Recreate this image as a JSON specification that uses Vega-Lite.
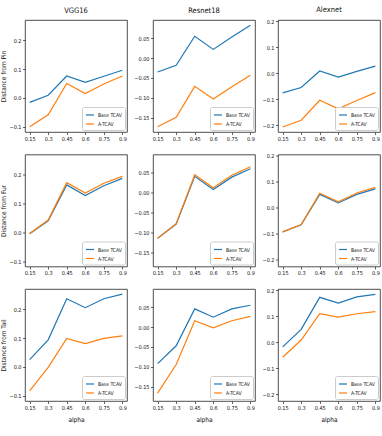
{
"$schema":"https://vega.github.io/schema/vega-lite/v6.json",
"padding":{"left":0,"top":5,"right":1,"bottom":2},
"data":{"values":[
{"model":"VGG16","concept":"Pin","method":"Base TCAV","alpha":0.15,"value":-0.016},
{"model":"VGG16","concept":"Pin","method":"Base TCAV","alpha":0.3,"value":0.009},
{"model":"VGG16","concept":"Pin","method":"Base TCAV","alpha":0.45,"value":0.076},
{"model":"VGG16","concept":"Pin","method":"Base TCAV","alpha":0.6,"value":0.054},
{"model":"VGG16","concept":"Pin","method":"Base TCAV","alpha":0.75,"value":0.075},
{"model":"VGG16","concept":"Pin","method":"Base TCAV","alpha":0.9,"value":0.096},
{"model":"VGG16","concept":"Pin","method":"A-TCAV","alpha":0.15,"value":-0.101},
{"model":"VGG16","concept":"Pin","method":"A-TCAV","alpha":0.3,"value":-0.059},
{"model":"VGG16","concept":"Pin","method":"A-TCAV","alpha":0.45,"value":0.050},
{"model":"VGG16","concept":"Pin","method":"A-TCAV","alpha":0.6,"value":0.015},
{"model":"VGG16","concept":"Pin","method":"A-TCAV","alpha":0.75,"value":0.048},
{"model":"VGG16","concept":"Pin","method":"A-TCAV","alpha":0.9,"value":0.076},
{"model":"Resnet18","concept":"Pin","method":"Base TCAV","alpha":0.15,"value":-0.035},
{"model":"Resnet18","concept":"Pin","method":"Base TCAV","alpha":0.3,"value":-0.018},
{"model":"Resnet18","concept":"Pin","method":"Base TCAV","alpha":0.45,"value":0.055},
{"model":"Resnet18","concept":"Pin","method":"Base TCAV","alpha":0.6,"value":0.022},
{"model":"Resnet18","concept":"Pin","method":"Base TCAV","alpha":0.75,"value":0.053},
{"model":"Resnet18","concept":"Pin","method":"Base TCAV","alpha":0.9,"value":0.083},
{"model":"Resnet18","concept":"Pin","method":"A-TCAV","alpha":0.15,"value":-0.173},
{"model":"Resnet18","concept":"Pin","method":"A-TCAV","alpha":0.3,"value":-0.149},
{"model":"Resnet18","concept":"Pin","method":"A-TCAV","alpha":0.45,"value":-0.071},
{"model":"Resnet18","concept":"Pin","method":"A-TCAV","alpha":0.6,"value":-0.103},
{"model":"Resnet18","concept":"Pin","method":"A-TCAV","alpha":0.75,"value":-0.072},
{"model":"Resnet18","concept":"Pin","method":"A-TCAV","alpha":0.9,"value":-0.043},
{"model":"Alexnet","concept":"Pin","method":"Base TCAV","alpha":0.15,"value":-0.075},
{"model":"Alexnet","concept":"Pin","method":"Base TCAV","alpha":0.3,"value":-0.054},
{"model":"Alexnet","concept":"Pin","method":"Base TCAV","alpha":0.45,"value":0.009},
{"model":"Alexnet","concept":"Pin","method":"Base TCAV","alpha":0.6,"value":-0.014},
{"model":"Alexnet","concept":"Pin","method":"Base TCAV","alpha":0.75,"value":0.008},
{"model":"Alexnet","concept":"Pin","method":"Base TCAV","alpha":0.9,"value":0.028},
{"model":"Alexnet","concept":"Pin","method":"A-TCAV","alpha":0.15,"value":-0.206},
{"model":"Alexnet","concept":"Pin","method":"A-TCAV","alpha":0.3,"value":-0.180},
{"model":"Alexnet","concept":"Pin","method":"A-TCAV","alpha":0.45,"value":-0.103},
{"model":"Alexnet","concept":"Pin","method":"A-TCAV","alpha":0.6,"value":-0.136},
{"model":"Alexnet","concept":"Pin","method":"A-TCAV","alpha":0.75,"value":-0.104},
{"model":"Alexnet","concept":"Pin","method":"A-TCAV","alpha":0.9,"value":-0.074},
{"model":"VGG16","concept":"Fur","method":"Base TCAV","alpha":0.15,"value":-0.005},
{"model":"VGG16","concept":"Fur","method":"Base TCAV","alpha":0.3,"value":0.040},
{"model":"VGG16","concept":"Fur","method":"Base TCAV","alpha":0.45,"value":0.165},
{"model":"VGG16","concept":"Fur","method":"Base TCAV","alpha":0.6,"value":0.128},
{"model":"VGG16","concept":"Fur","method":"Base TCAV","alpha":0.75,"value":0.162},
{"model":"VGG16","concept":"Fur","method":"Base TCAV","alpha":0.9,"value":0.188},
{"model":"VGG16","concept":"Fur","method":"A-TCAV","alpha":0.15,"value":-0.004},
{"model":"VGG16","concept":"Fur","method":"A-TCAV","alpha":0.3,"value":0.043},
{"model":"VGG16","concept":"Fur","method":"A-TCAV","alpha":0.45,"value":0.173},
{"model":"VGG16","concept":"Fur","method":"A-TCAV","alpha":0.6,"value":0.137},
{"model":"VGG16","concept":"Fur","method":"A-TCAV","alpha":0.75,"value":0.171},
{"model":"VGG16","concept":"Fur","method":"A-TCAV","alpha":0.9,"value":0.195},
{"model":"Resnet18","concept":"Fur","method":"Base TCAV","alpha":0.15,"value":-0.115},
{"model":"Resnet18","concept":"Fur","method":"Base TCAV","alpha":0.3,"value":-0.079},
{"model":"Resnet18","concept":"Fur","method":"Base TCAV","alpha":0.45,"value":0.041},
{"model":"Resnet18","concept":"Fur","method":"Base TCAV","alpha":0.6,"value":0.008},
{"model":"Resnet18","concept":"Fur","method":"Base TCAV","alpha":0.75,"value":0.039},
{"model":"Resnet18","concept":"Fur","method":"Base TCAV","alpha":0.9,"value":0.060},
{"model":"Resnet18","concept":"Fur","method":"A-TCAV","alpha":0.15,"value":-0.115},
{"model":"Resnet18","concept":"Fur","method":"A-TCAV","alpha":0.3,"value":-0.078},
{"model":"Resnet18","concept":"Fur","method":"A-TCAV","alpha":0.45,"value":0.045},
{"model":"Resnet18","concept":"Fur","method":"A-TCAV","alpha":0.6,"value":0.012},
{"model":"Resnet18","concept":"Fur","method":"A-TCAV","alpha":0.75,"value":0.044},
{"model":"Resnet18","concept":"Fur","method":"A-TCAV","alpha":0.9,"value":0.065},
{"model":"Alexnet","concept":"Fur","method":"Base TCAV","alpha":0.15,"value":-0.092},
{"model":"Alexnet","concept":"Fur","method":"Base TCAV","alpha":0.3,"value":-0.065},
{"model":"Alexnet","concept":"Fur","method":"Base TCAV","alpha":0.45,"value":0.052},
{"model":"Alexnet","concept":"Fur","method":"Base TCAV","alpha":0.6,"value":0.019},
{"model":"Alexnet","concept":"Fur","method":"Base TCAV","alpha":0.75,"value":0.052},
{"model":"Alexnet","concept":"Fur","method":"Base TCAV","alpha":0.9,"value":0.073},
{"model":"Alexnet","concept":"Fur","method":"A-TCAV","alpha":0.15,"value":-0.092},
{"model":"Alexnet","concept":"Fur","method":"A-TCAV","alpha":0.3,"value":-0.064},
{"model":"Alexnet","concept":"Fur","method":"A-TCAV","alpha":0.45,"value":0.056},
{"model":"Alexnet","concept":"Fur","method":"A-TCAV","alpha":0.6,"value":0.023},
{"model":"Alexnet","concept":"Fur","method":"A-TCAV","alpha":0.75,"value":0.057},
{"model":"Alexnet","concept":"Fur","method":"A-TCAV","alpha":0.9,"value":0.079},
{"model":"VGG16","concept":"Tail","method":"Base TCAV","alpha":0.15,"value":0.025},
{"model":"VGG16","concept":"Tail","method":"Base TCAV","alpha":0.3,"value":0.094},
{"model":"VGG16","concept":"Tail","method":"Base TCAV","alpha":0.45,"value":0.237},
{"model":"VGG16","concept":"Tail","method":"Base TCAV","alpha":0.6,"value":0.206},
{"model":"VGG16","concept":"Tail","method":"Base TCAV","alpha":0.75,"value":0.237},
{"model":"VGG16","concept":"Tail","method":"Base TCAV","alpha":0.9,"value":0.253},
{"model":"VGG16","concept":"Tail","method":"A-TCAV","alpha":0.15,"value":-0.084},
{"model":"VGG16","concept":"Tail","method":"A-TCAV","alpha":0.3,"value":-0.002},
{"model":"VGG16","concept":"Tail","method":"A-TCAV","alpha":0.45,"value":0.099},
{"model":"VGG16","concept":"Tail","method":"A-TCAV","alpha":0.6,"value":0.081},
{"model":"VGG16","concept":"Tail","method":"A-TCAV","alpha":0.75,"value":0.099},
{"model":"VGG16","concept":"Tail","method":"A-TCAV","alpha":0.9,"value":0.108},
{"model":"Resnet18","concept":"Tail","method":"Base TCAV","alpha":0.15,"value":-0.092},
{"model":"Resnet18","concept":"Tail","method":"Base TCAV","alpha":0.3,"value":-0.047},
{"model":"Resnet18","concept":"Tail","method":"Base TCAV","alpha":0.45,"value":0.046},
{"model":"Resnet18","concept":"Tail","method":"Base TCAV","alpha":0.6,"value":0.025},
{"model":"Resnet18","concept":"Tail","method":"Base TCAV","alpha":0.75,"value":0.046},
{"model":"Resnet18","concept":"Tail","method":"Base TCAV","alpha":0.9,"value":0.055},
{"model":"Resnet18","concept":"Tail","method":"A-TCAV","alpha":0.15,"value":-0.166},
{"model":"Resnet18","concept":"Tail","method":"A-TCAV","alpha":0.3,"value":-0.094},
{"model":"Resnet18","concept":"Tail","method":"A-TCAV","alpha":0.45,"value":0.016},
{"model":"Resnet18","concept":"Tail","method":"A-TCAV","alpha":0.6,"value":-0.002},
{"model":"Resnet18","concept":"Tail","method":"A-TCAV","alpha":0.75,"value":0.016},
{"model":"Resnet18","concept":"Tail","method":"A-TCAV","alpha":0.9,"value":0.027},
{"model":"Alexnet","concept":"Tail","method":"Base TCAV","alpha":0.15,"value":-0.017},
{"model":"Alexnet","concept":"Tail","method":"Base TCAV","alpha":0.3,"value":0.050},
{"model":"Alexnet","concept":"Tail","method":"Base TCAV","alpha":0.45,"value":0.173},
{"model":"Alexnet","concept":"Tail","method":"Base TCAV","alpha":0.6,"value":0.151},
{"model":"Alexnet","concept":"Tail","method":"Base TCAV","alpha":0.75,"value":0.175},
{"model":"Alexnet","concept":"Tail","method":"Base TCAV","alpha":0.9,"value":0.184},
{"model":"Alexnet","concept":"Tail","method":"A-TCAV","alpha":0.15,"value":-0.057},
{"model":"Alexnet","concept":"Tail","method":"A-TCAV","alpha":0.3,"value":0.009},
{"model":"Alexnet","concept":"Tail","method":"A-TCAV","alpha":0.45,"value":0.110},
{"model":"Alexnet","concept":"Tail","method":"A-TCAV","alpha":0.6,"value":0.097},
{"model":"Alexnet","concept":"Tail","method":"A-TCAV","alpha":0.75,"value":0.110},
{"model":"Alexnet","concept":"Tail","method":"A-TCAV","alpha":0.9,"value":0.118}
]},
"spacing":10.5,
"resolve":{"scale":{"color":"independent"},"legend":{"color":"independent"}},
"vconcat":[
{"spacing":5,"resolve":{"scale":{"color":"independent"},"legend":{"color":"independent"}},"hconcat":[
{"width":102,"height":112,"title":"VGG16","transform":[{"filter":"datum.model=='VGG16' && datum.concept=='Pin'"}],"mark":"line","encoding":{
"x":{"field":"alpha","type":"quantitative","scale":{"domain":[0.1125,0.9375],"nice":false,"zero":false},"axis":{"values":[0.15,0.3,0.45,0.6,0.75,0.9],"format":".2~f","title":null}},
"y":{"field":"value","type":"quantitative","scale":{"domain":[-0.119,0.271],"nice":false,"zero":false},"axis":{"values":[-0.1,0,0.1,0.2],"format":".1f","title":"Distance from Pin"}},
"color":{"field":"method","type":"nominal","scale":{"domain":["Base TCAV","A-TCAV"],"range":["#1f77b4","#ff7f0e"]},"legend":{"title":null}}}},
{"width":102,"height":112,"title":"Resnet18","transform":[{"filter":"datum.model=='Resnet18' && datum.concept=='Pin'"}],"mark":"line","encoding":{
"x":{"field":"alpha","type":"quantitative","scale":{"domain":[0.1125,0.9375],"nice":false,"zero":false},"axis":{"values":[0.15,0.3,0.45,0.6,0.75,0.9],"format":".2~f","title":null}},
"y":{"field":"value","type":"quantitative","scale":{"domain":[-0.186,0.096],"nice":false,"zero":false},"axis":{"values":[-0.15,-0.1,-0.05,0,0.05],"format":".2f","title":null}},
"color":{"field":"method","type":"nominal","scale":{"domain":["Base TCAV","A-TCAV"],"range":["#1f77b4","#ff7f0e"]},"legend":{"title":null}}}},
{"width":102,"height":112,"title":"Alexnet","transform":[{"filter":"datum.model=='Alexnet' && datum.concept=='Pin'"}],"mark":"line","encoding":{
"x":{"field":"alpha","type":"quantitative","scale":{"domain":[0.1125,0.9375],"nice":false,"zero":false},"axis":{"values":[0.15,0.3,0.45,0.6,0.75,0.9],"format":".2~f","title":null}},
"y":{"field":"value","type":"quantitative","scale":{"domain":[-0.225,0.205],"nice":false,"zero":false},"axis":{"values":[-0.2,-0.1,0,0.1,0.2],"format":".1f","title":null}},
"color":{"field":"method","type":"nominal","scale":{"domain":["Base TCAV","A-TCAV"],"range":["#1f77b4","#ff7f0e"]},"legend":{"title":null}}}}
]},
{"spacing":5,"resolve":{"scale":{"color":"independent"},"legend":{"color":"independent"}},"hconcat":[
{"width":102,"height":112,"transform":[{"filter":"datum.model=='VGG16' && datum.concept=='Fur'"}],"mark":"line","encoding":{
"x":{"field":"alpha","type":"quantitative","scale":{"domain":[0.1125,0.9375],"nice":false,"zero":false},"axis":{"values":[0.15,0.3,0.45,0.6,0.75,0.9],"format":".2~f","title":null}},
"y":{"field":"value","type":"quantitative","scale":{"domain":[-0.119,0.271],"nice":false,"zero":false},"axis":{"values":[-0.1,0,0.1,0.2],"format":".1f","title":"Distance from Fur"}},
"color":{"field":"method","type":"nominal","scale":{"domain":["Base TCAV","A-TCAV"],"range":["#1f77b4","#ff7f0e"]},"legend":{"title":null}}}},
{"width":102,"height":112,"transform":[{"filter":"datum.model=='Resnet18' && datum.concept=='Fur'"}],"mark":"line","encoding":{
"x":{"field":"alpha","type":"quantitative","scale":{"domain":[0.1125,0.9375],"nice":false,"zero":false},"axis":{"values":[0.15,0.3,0.45,0.6,0.75,0.9],"format":".2~f","title":null}},
"y":{"field":"value","type":"quantitative","scale":{"domain":[-0.186,0.096],"nice":false,"zero":false},"axis":{"values":[-0.15,-0.1,-0.05,0,0.05],"format":".2f","title":null}},
"color":{"field":"method","type":"nominal","scale":{"domain":["Base TCAV","A-TCAV"],"range":["#1f77b4","#ff7f0e"]},"legend":{"title":null}}}},
{"width":102,"height":112,"transform":[{"filter":"datum.model=='Alexnet' && datum.concept=='Fur'"}],"mark":"line","encoding":{
"x":{"field":"alpha","type":"quantitative","scale":{"domain":[0.1125,0.9375],"nice":false,"zero":false},"axis":{"values":[0.15,0.3,0.45,0.6,0.75,0.9],"format":".2~f","title":null}},
"y":{"field":"value","type":"quantitative","scale":{"domain":[-0.225,0.205],"nice":false,"zero":false},"axis":{"values":[-0.2,-0.1,0,0.1,0.2],"format":".1f","title":null}},
"color":{"field":"method","type":"nominal","scale":{"domain":["Base TCAV","A-TCAV"],"range":["#1f77b4","#ff7f0e"]},"legend":{"title":null}}}}
]},
{"spacing":5,"resolve":{"scale":{"color":"independent"},"legend":{"color":"independent"}},"hconcat":[
{"width":102,"height":112,"transform":[{"filter":"datum.model=='VGG16' && datum.concept=='Tail'"}],"mark":"line","encoding":{
"x":{"field":"alpha","type":"quantitative","scale":{"domain":[0.1125,0.9375],"nice":false,"zero":false},"axis":{"values":[0.15,0.3,0.45,0.6,0.75,0.9],"format":".2~f","title":"alpha","titlePadding":6}},
"y":{"field":"value","type":"quantitative","scale":{"domain":[-0.119,0.271],"nice":false,"zero":false},"axis":{"values":[-0.1,0,0.1,0.2],"format":".1f","title":"Distance from Tail"}},
"color":{"field":"method","type":"nominal","scale":{"domain":["Base TCAV","A-TCAV"],"range":["#1f77b4","#ff7f0e"]},"legend":{"title":null}}}},
{"width":102,"height":112,"transform":[{"filter":"datum.model=='Resnet18' && datum.concept=='Tail'"}],"mark":"line","encoding":{
"x":{"field":"alpha","type":"quantitative","scale":{"domain":[0.1125,0.9375],"nice":false,"zero":false},"axis":{"values":[0.15,0.3,0.45,0.6,0.75,0.9],"format":".2~f","title":"alpha","titlePadding":6}},
"y":{"field":"value","type":"quantitative","scale":{"domain":[-0.186,0.096],"nice":false,"zero":false},"axis":{"values":[-0.15,-0.1,-0.05,0,0.05],"format":".2f","title":null}},
"color":{"field":"method","type":"nominal","scale":{"domain":["Base TCAV","A-TCAV"],"range":["#1f77b4","#ff7f0e"]},"legend":{"title":null}}}},
{"width":102,"height":112,"transform":[{"filter":"datum.model=='Alexnet' && datum.concept=='Tail'"}],"mark":"line","encoding":{
"x":{"field":"alpha","type":"quantitative","scale":{"domain":[0.1125,0.9375],"nice":false,"zero":false},"axis":{"values":[0.15,0.3,0.45,0.6,0.75,0.9],"format":".2~f","title":"alpha","titlePadding":6}},
"y":{"field":"value","type":"quantitative","scale":{"domain":[-0.225,0.205],"nice":false,"zero":false},"axis":{"values":[-0.2,-0.1,0,0.1,0.2],"format":".1f","title":null}},
"color":{"field":"method","type":"nominal","scale":{"domain":["Base TCAV","A-TCAV"],"range":["#1f77b4","#ff7f0e"]},"legend":{"title":null}}}}
]}
],
"config":{
"font":"DejaVu Sans Condensed, DejaVu Sans",
"background":"white",
"view":{"stroke":"#222","strokeWidth":0.8},
"line":{"strokeWidth":1.2},
"axis":{"grid":false,"domain":false,"tickSize":2.5,"tickColor":"#222","tickWidth":0.7,"labelFontSize":5.5,"labelColor":"#111","labelPadding":1.5,"labelFlush":false,"labelOverlap":false,"titleFontSize":6.5,"titleFontWeight":"normal","titleColor":"#111","titlePadding":2},
"title":{"fontSize":7.5,"fontWeight":"normal","color":"#111","offset":6},
"legend":{"orient":"bottom-right","offset":2,"padding":3,"fillColor":"white","strokeColor":"#ccc","cornerRadius":2,"labelFontSize":5,"labelColor":"#111","symbolType":"stroke","symbolSize":64,"symbolStrokeWidth":1.2,"rowPadding":1,"labelOffset":3}
}
}
